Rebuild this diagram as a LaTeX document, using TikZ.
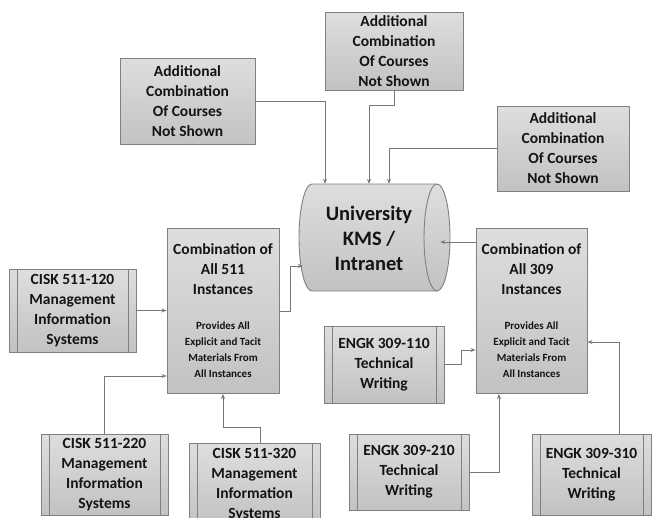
\documentclass[tikz,border=0pt]{standalone}
\usepackage{fontspec}
\setmainfont{Carlito}
\usetikzlibrary{arrows.meta}
\definecolor{bordc}{RGB}{128,128,128}
\definecolor{linec}{RGB}{120,120,120}
\definecolor{topc}{RGB}{222,222,222}
\definecolor{botc}{RGB}{194,194,194}
\definecolor{txtc}{RGB}{20,20,20}
\newcommand\smalltxt{\fontsize{11}{15.7}\selectfont}
\begin{document}
\begin{tikzpicture}[x=1pt,y=-1pt,
  box/.style={draw=bordc, line width=0.9pt, top color=topc, bottom color=botc,
    inner sep=0pt, align=center, text=txtc,
    font=\fontsize{15.5}{20}\selectfont\bfseries},
  proc/.style={box, path picture={
    \draw[bordc, line width=0.9pt] ([xshift=8pt]path picture bounding box.north west) -- ([xshift=8pt]path picture bounding box.south west);
    \draw[bordc, line width=0.9pt] ([xshift=-8pt]path picture bounding box.north east) -- ([xshift=-8pt]path picture bounding box.south east);}},
  conn/.style={draw=linec, line width=0.8pt, -{Stealth[length=5pt,width=4pt]}},
  bigtext/.style={text=txtc, align=center, font=\fontsize{20.5}{25}\selectfont\bfseries}
]
\clip (0,0) rectangle (652,517);
\fill[white] (0,0) rectangle (652,517);

% cylinder
\draw[draw=bordc, line width=0.9pt, top color=topc, bottom color=botc]
  (312,184) arc[start angle=90, end angle=270, x radius=13pt, y radius=53.5pt]
  -- (437,291) arc[start angle=-90, end angle=90, x radius=13pt, y radius=53.5pt] -- cycle;
\draw[bordc, line width=0.9pt] (437,184) arc[start angle=90, end angle=270, x radius=13pt, y radius=53.5pt];
\node[inner sep=0pt, minimum width=147pt, minimum height=107pt] (kms) at (376.5,237.5) {};
\node[bigtext] (kmslabel) at (369,238.5) {University\\KMS /\\Intranet};

% additional boxes
\node[box, minimum width=135pt, minimum height=86pt] (a1) at (187.5,101) {Additional\\Combination\\Of Courses\\Not Shown};
\node[box, minimum width=138pt, minimum height=78pt] (a2) at (394,51) {Additional\\Combination\\Of Courses\\Not Shown};
\node[box, minimum width=132pt, minimum height=85pt] (a3) at (563,148.5) {Additional\\Combination\\Of Courses\\Not Shown};

% combination boxes
\node[box, minimum width=112pt, minimum height=165pt] (b1) at (223,311)
  {Combination of\\All 511\\Instances\\[15pt]\smalltxt Provides All\\[-4pt]\smalltxt Explicit and Tacit\\[-4pt]\smalltxt Materials From\\[-4pt]\smalltxt All Instances};
\node[box, minimum width=111pt, minimum height=165pt] (b2) at (531.5,311)
  {Combination of\\All 309\\Instances\\[15pt]\smalltxt Provides All\\[-4pt]\smalltxt Explicit and Tacit\\[-4pt]\smalltxt Materials From\\[-4pt]\smalltxt All Instances};

% course boxes
\node[proc, minimum width=127pt, minimum height=83pt] (c1) at (72.5,310.5) {CISK 511-120\\Management\\Information\\Systems};
\node[proc, minimum width=127pt, minimum height=81pt] (c2) at (104.5,474.5) {CISK 511-220\\Management\\Information\\Systems};
\node[proc, minimum width=131pt, minimum height=83pt] (c3) at (254.5,484.5) {CISK 511-320\\Management\\Information\\Systems};
\node[proc, minimum width=120pt, minimum height=77pt] (e1) at (384,364.5) {ENGK 309-110\\Technical\\Writing};
\node[proc, minimum width=120pt, minimum height=76pt] (e2) at (409,472) {ENGK 309-210\\Technical\\Writing};
\node[proc, minimum width=119pt, minimum height=81pt] (e3) at (591.5,474.5) {ENGK 309-310\\Technical\\Writing};

% connectors to KMS
\draw[conn] (a1.east) -| ([xshift=-51.5pt]kms.north);
\draw[conn] (a2.south) -- ++(0,15) -| ([xshift=-7.5pt]kms.north);
\draw[conn] (a3.west) -| ([xshift=12.5pt]kms.north);
\coordinate (kin) at ([xshift=-10pt]kms.east);
\coordinate (b2out) at ([yshift=69pt]b2.west);
\draw[conn] (b2out) -- (b2out -| kin);
\draw[conn] (b1.east) -- ++(11,0) |- ([yshift=-28.5pt]kms.west);

% connectors to 511
\draw[conn] (c1.east) -- (c1.east -| b1.west);
\draw[conn] (c2.north) |- ([yshift=-65pt]b1.west);
\draw[conn] ([xshift=5.5pt]c3.north) -- ++(0,-15) -| (b1.south);

% connectors to 309
\draw[conn] (e1.east) -- ++(17,0) |- ([yshift=-39pt]b2.west);
\draw[conn] (e2.east) -| ([xshift=-32.5pt]b2.south);
\draw[conn] ([xshift=27.5pt]e3.north) |- ([yshift=-31pt]b2.east);
\end{tikzpicture}
\end{document}
